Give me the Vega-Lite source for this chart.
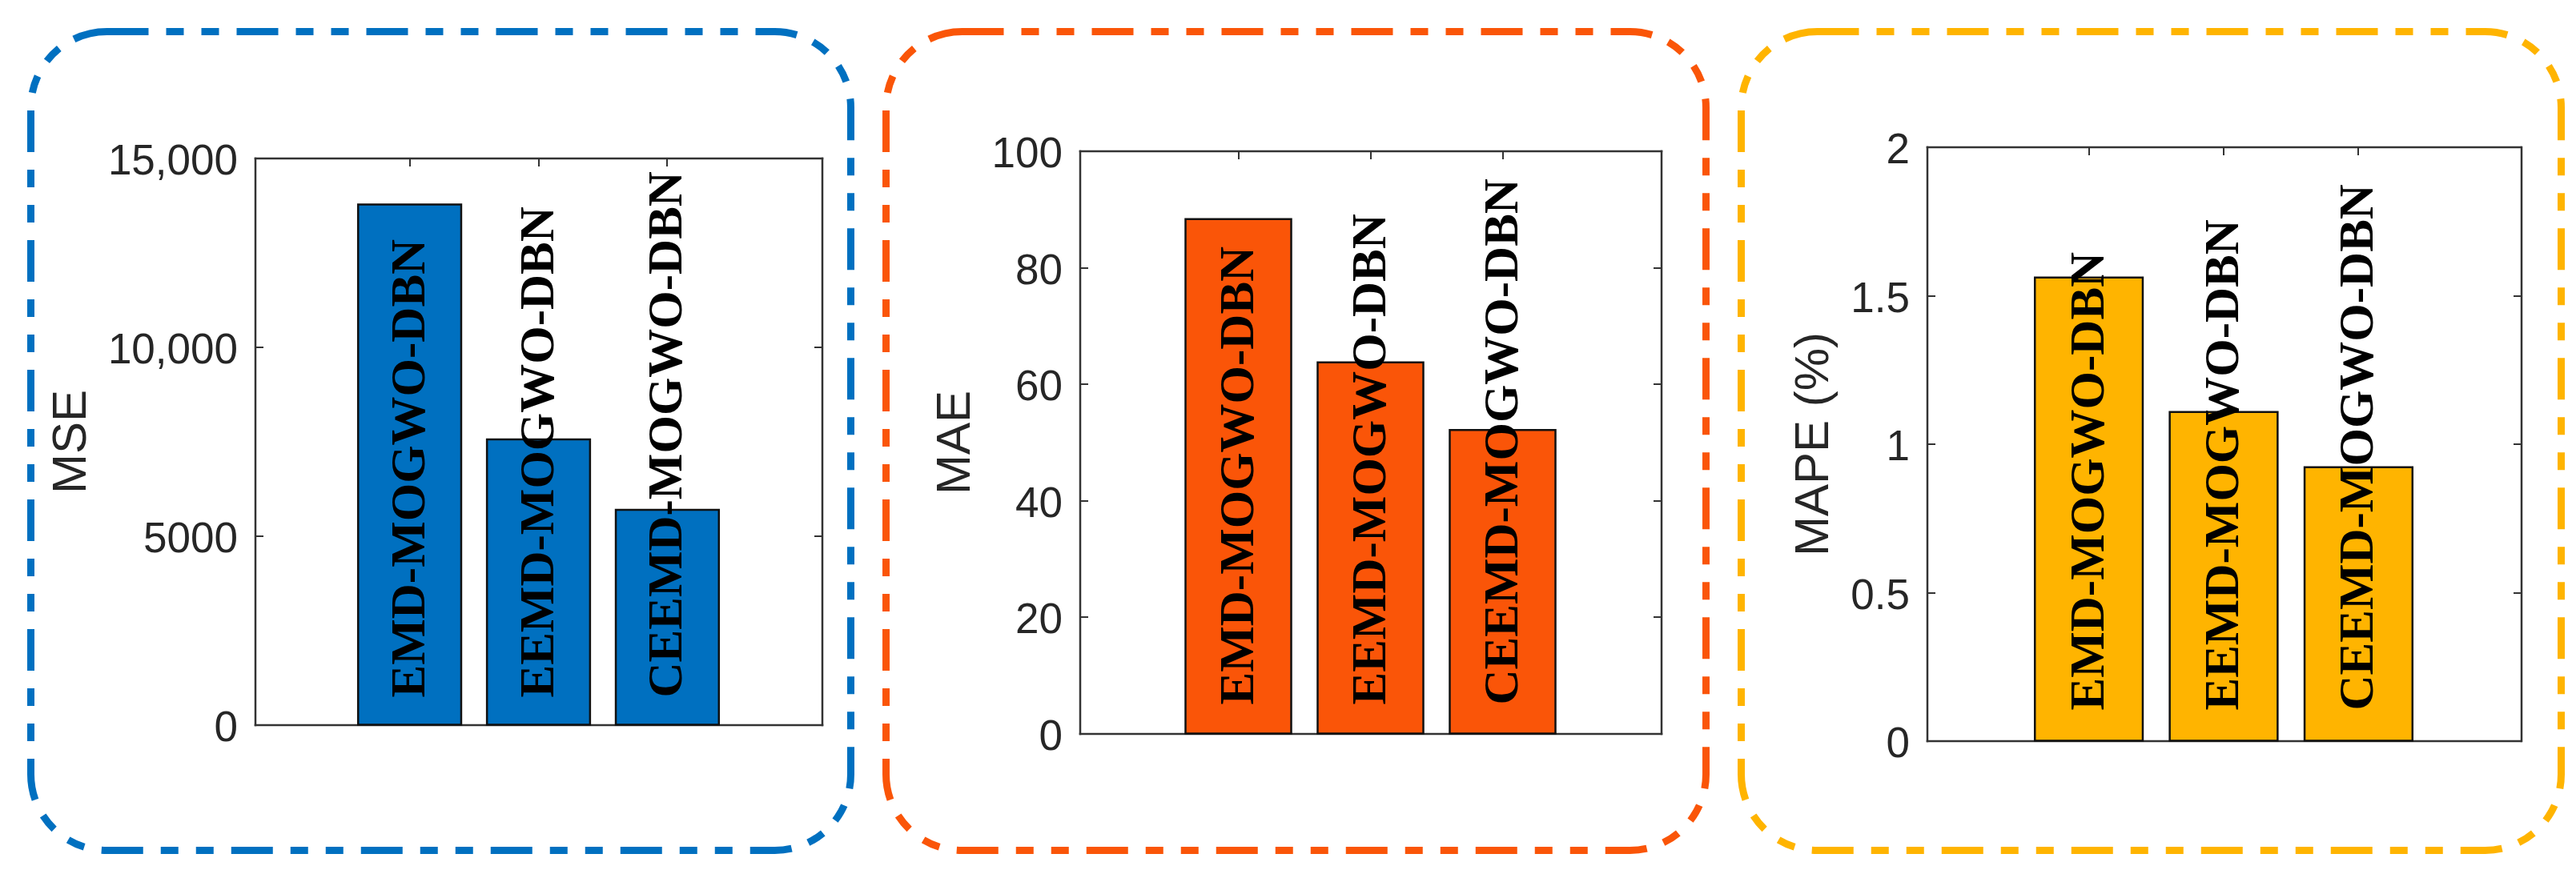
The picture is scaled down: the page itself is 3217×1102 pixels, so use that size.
{
  "$schema": "https://vega.github.io/schema/vega-lite/v6.json",
  "background": "white",
  "padding": {"left": 33.5, "top": 34.5, "right": 0, "bottom": 0},
  "spacing": 34,
  "datasets": {
    "results": [
      {"metric": "MSE", "model": "EMD-MOGWO-DBN", "value": 13770},
      {"metric": "MSE", "model": "EEMD-MOGWO-DBN", "value": 7555},
      {"metric": "MSE", "model": "CEEMD-MOGWO-DBN", "value": 5690},
      {"metric": "MAE", "model": "EMD-MOGWO-DBN", "value": 88.3},
      {"metric": "MAE", "model": "EEMD-MOGWO-DBN", "value": 63.7},
      {"metric": "MAE", "model": "CEEMD-MOGWO-DBN", "value": 52.1},
      {"metric": "MAPE", "model": "EMD-MOGWO-DBN", "value": 1.56},
      {"metric": "MAPE", "model": "EEMD-MOGWO-DBN", "value": 1.107},
      {"metric": "MAPE", "model": "CEEMD-MOGWO-DBN", "value": 0.921}
    ]
  },
  "data": {"name": "results"},
  "hconcat": [
    {
      "width": 1024, "height": 1023,
      "view": {"stroke": "#0070C0", "strokeWidth": 9, "strokeDash": [52, 22, 22, 22, 22, 22], "cornerRadius": 95, "fill": null},
      "transform": [{"filter": "datum.metric === 'MSE'"}],
      "layer": [
        {
          "mark": {"type": "bar", "fill": "#0070C0", "stroke": "#111111", "strokeWidth": 2.5},
          "encoding": {
            "x": {"field": "model", "type": "nominal", "sort": null,
              "scale": {"range": [280, 988], "paddingInner": 0.2, "paddingOuter": 0.8},
              "axis": {"orient": "bottom", "offset": -157, "labels": false, "title": null}},
            "y": {"field": "value", "type": "quantitative",
              "scale": {"domain": [0, 15000], "range": [866, 158], "nice": false, "zero": true},
              "axis": {"orient": "left", "offset": -280, "values": [0, 5000, 10000, 15000], "title": "MSE",
                "labelExpr": "datum.value >= 10000 ? format(datum.value, ',') : format(datum.value, 'd')"}}
          }
        },
        {
          "mark": {"type": "text", "font": "Liberation Serif", "fontWeight": "bold", "fontSize": 61, "angle": 270, "align": "left", "baseline": "middle", "dx": 34, "color": "#000000"},
          "encoding": {
            "x": {"field": "model", "type": "nominal", "sort": null,
              "axis": {"orient": "top", "offset": -158, "labels": false, "title": null}},
            "y": {"datum": 0, "type": "quantitative",
              "axis": {"orient": "right", "offset": -36, "values": [0, 5000, 10000, 15000], "labels": false, "title": null}},
            "text": {"field": "model"}
          }
        }
      ],
      "resolve": {"axis": {"x": "independent", "y": "independent"}}
    },
    {
      "width": 1024, "height": 1023,
      "view": {"stroke": "#FA5508", "strokeWidth": 9, "strokeDash": [52, 22, 22, 22, 22, 22], "cornerRadius": 95, "fill": null},
      "transform": [{"filter": "datum.metric === 'MAE'"}],
      "layer": [
        {
          "mark": {"type": "bar", "fill": "#FA5508", "stroke": "#111111", "strokeWidth": 2.5},
          "encoding": {
            "x": {"field": "model", "type": "nominal", "sort": null,
              "scale": {"range": [242, 968], "paddingInner": 0.2, "paddingOuter": 0.8},
              "axis": {"orient": "bottom", "offset": -146, "labels": false, "title": null}},
            "y": {"field": "value", "type": "quantitative",
              "scale": {"domain": [0, 100], "range": [877, 149], "nice": false, "zero": true},
              "axis": {"orient": "left", "offset": -242, "values": [0, 20, 40, 60, 80, 100], "title": "MAE"}}
          }
        },
        {
          "mark": {"type": "text", "font": "Liberation Serif", "fontWeight": "bold", "fontSize": 61, "angle": 270, "align": "left", "baseline": "middle", "dx": 36, "color": "#000000"},
          "encoding": {
            "x": {"field": "model", "type": "nominal", "sort": null,
              "axis": {"orient": "top", "offset": -149, "labels": false, "title": null}},
            "y": {"datum": 0, "type": "quantitative",
              "axis": {"orient": "right", "offset": -56, "values": [0, 20, 40, 60, 80, 100], "labels": false, "title": null}},
            "text": {"field": "model"}
          }
        }
      ],
      "resolve": {"axis": {"x": "independent", "y": "independent"}}
    },
    {
      "width": 1024, "height": 1023,
      "view": {"stroke": "#FFB400", "strokeWidth": 9, "strokeDash": [52, 22, 22, 22, 22, 22], "cornerRadius": 95, "fill": null},
      "transform": [{"filter": "datum.metric === 'MAPE'"}],
      "layer": [
        {
          "mark": {"type": "bar", "fill": "#FFB400", "stroke": "#111111", "strokeWidth": 2.5},
          "encoding": {
            "x": {"field": "model", "type": "nominal", "sort": null,
              "scale": {"range": [232, 973], "paddingInner": 0.2, "paddingOuter": 0.8},
              "axis": {"orient": "bottom", "offset": -137, "labels": false, "title": null}},
            "y": {"field": "value", "type": "quantitative",
              "scale": {"domain": [0, 2], "range": [886, 144], "nice": false, "zero": true},
              "axis": {"orient": "left", "offset": -232, "values": [0, 0.5, 1, 1.5, 2], "title": "MAPE (%)",
                "labelExpr": "format(datum.value, '~g')"}}
          }
        },
        {
          "mark": {"type": "text", "font": "Liberation Serif", "fontWeight": "bold", "fontSize": 61, "angle": 270, "align": "left", "baseline": "middle", "dx": 38, "color": "#000000"},
          "encoding": {
            "x": {"field": "model", "type": "nominal", "sort": null,
              "axis": {"orient": "top", "offset": -144, "labels": false, "title": null}},
            "y": {"datum": 0, "type": "quantitative",
              "axis": {"orient": "right", "offset": -50, "values": [0, 0.5, 1, 1.5, 2], "labels": false, "title": null}},
            "text": {"field": "model"}
          }
        }
      ],
      "resolve": {"axis": {"x": "independent", "y": "independent"}}
    }
  ],
  "config": {
    "axis": {
      "grid": false,
      "domainColor": "#333333", "domainWidth": 2.5, "domainCap": "square",
      "tickColor": "#333333", "tickWidth": 2, "tickSize": -10,
      "labelFont": "Liberation Sans", "labelFontSize": 53, "labelColor": "#262626",
      "labelPadding": 32, "labelOffset": 4,
      "titleFont": "Liberation Sans", "titleFontSize": 60, "titleFontWeight": "normal", "titleColor": "#262626",
      "titlePadding": 15
    }
  }
}
